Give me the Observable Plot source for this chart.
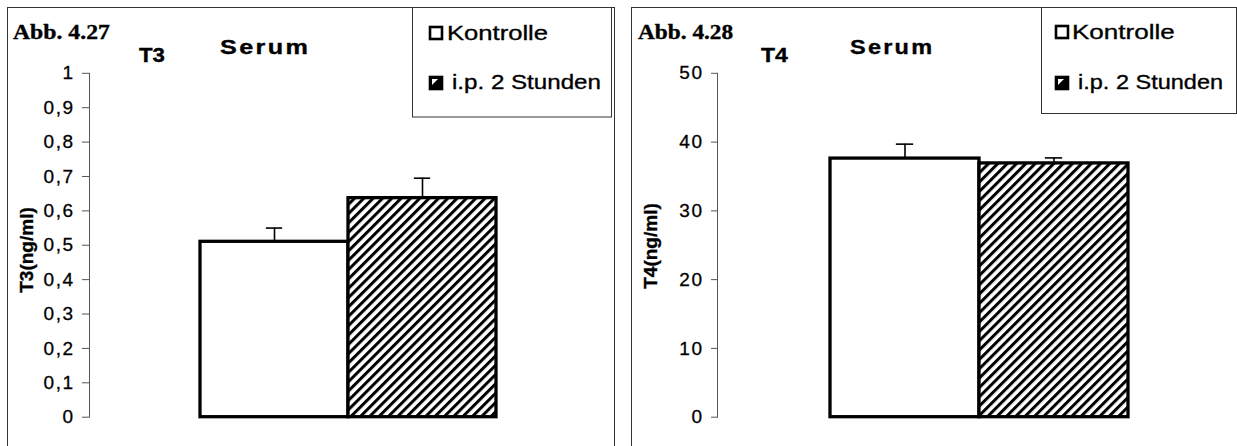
<!DOCTYPE html>
<html>
<head>
<meta charset="utf-8">
<script src="https://cdn.jsdelivr.net/npm/d3@7"></script>
<script src="https://cdn.jsdelivr.net/npm/@observablehq/plot@0.6"></script>
<style>
  html, body { margin: 0; padding: 0; background: #fff; }
  #wrap { position: relative; width: 1237px; height: 446px; overflow: hidden; background: #fff; }
  #wrap svg { position: absolute; top: 0; }
  .sans { font-family: "Liberation Sans", Arial, sans-serif; }
  .serif { font-family: "Liberation Serif", "Times New Roman", serif; }
  .heavy { stroke: black; stroke-width: 0.35px; }
</style>
</head>
<body>
<div id="wrap"></div>
<script>
// ---- data ----
const categories = ["Kontrolle", "i.p. 2 Stunden"];
const t3Values = [0.51, 0.637];
const t3Errors = [0.04, 0.058];
const t4Values = [37.6, 36.9];
const t4Errors = [2.1, 0.8];
const t3Ticks = [0, 0.1, 0.2, 0.3, 0.4, 0.5, 0.6, 0.7, 0.8, 0.9, 1];
const t4Ticks = [0, 10, 20, 30, 40, 50];

const wrap = document.getElementById("wrap");
const comma = d => String(d).replace(".", ",");

function panel({values, errors, ticks, domain, left, width, marginLeft, marginRight, tickSize, align, hatchId}) {
  const data = categories.map((c, i) => ({cat: c, value: values[i], err: errors[i], top: values[i] + errors[i]}));
  const step = 148.7;
  const svg = Plot.plot({
    width, height: 446,
    marginLeft, marginRight, marginTop: 72.8, marginBottom: 29.3,
    style: {fontFamily: "Liberation Sans, Arial, sans-serif", fontSize: "19px", color: "black", background: "transparent", overflow: "visible"},
    x: {domain: categories, paddingInner: 0, paddingOuter: 0.74, align, axis: null},
    y: {domain, ticks, tickFormat: comma, tickSize, tickPadding: 8, line: true, label: null},
    marks: [
      Plot.ruleX(data, {x: "cat", y1: "value", y2: "top", stroke: "black", strokeWidth: 1.6}),
      Plot.tickY(data, {x: "cat", y: "top", stroke: "black", strokeWidth: 1.6, insetLeft: (step - 17) / 2, insetRight: (step - 17) / 2}),
      Plot.barY(data.filter(d => d.cat === categories[0]), {x: "cat", y: "value", fill: "white", stroke: "black", strokeWidth: 3.3}),
      Plot.barY(data.filter(d => d.cat === categories[1]), {x: "cat", y: "value", fill: `url(#${hatchId})`, stroke: "black", strokeWidth: 3.3})
    ]
  });
  svg.style.left = left + "px";
  svg.insertAdjacentHTML("afterbegin",
    `<defs><pattern id="${hatchId}" patternUnits="userSpaceOnUse" width="6.6" height="6.6" patternTransform="rotate(45)">
       <rect x="0" y="0" width="6.6" height="6.6" fill="white"></rect>
       <rect x="0" y="0" width="3" height="6.6" fill="black"></rect>
     </pattern></defs>`);
  svg.querySelectorAll("[aria-label='y-axis tick label']").forEach(g => {
    g.style.letterSpacing = "1.5px";
    g.style.stroke = "black";
    g.style.strokeWidth = "0.3px";
  });
  svg.querySelectorAll("[aria-label='y-axis tick'], [aria-label='frame']").forEach(g => {
    g.setAttribute("stroke", "#555");
  });
  wrap.appendChild(svg);
}

panel({values: t3Values, errors: t3Errors, ticks: t3Ticks, domain: [0, 1], left: 0, width: 618, marginLeft: 89, marginRight: 12, tickSize: 7, align: 0.5, hatchId: "hatchA"});
panel({values: t4Values, errors: t4Errors, ticks: t4Ticks, domain: [0, 50], left: 618, width: 619, marginLeft: 99, marginRight: 0, tickSize: 6, align: 0.51, hatchId: "hatchB"});

// ---- frames, titles, legends ----
function legendSym(x, y) {
  return `<rect x="${x}" y="${y}" width="12" height="12" fill="white" stroke="black" stroke-width="2.6"></rect>`;
}
function legendSymH(x, y) {
  return `<rect x="${x}" y="${y}" width="12" height="12" fill="black" stroke="black" stroke-width="2.6"></rect>
          <polygon points="${x+2},${y+2} ${x+8},${y+2} ${x+2},${y+8}" fill="white"></polygon>`;
}
function txt(cls, x, y, size, sx, text, extra = "") {
  return `<text class="${cls} heavy" transform="translate(${x},${y}) scale(${sx},1)" font-size="${size}" ${extra}>${text}</text>`;
}
const overlay = `
<svg width="1237" height="446" style="left:0;top:0;pointer-events:none">
  <rect x="7.5" y="7.5" width="607" height="460" fill="none" stroke="#333" stroke-width="1"></rect>
  <rect x="412.5" y="7.5" width="199" height="109.5" fill="none" stroke="#333" stroke-width="1"></rect>
  <rect x="631.5" y="7.5" width="620" height="460" fill="none" stroke="#333" stroke-width="1"></rect>
  <rect x="1041.5" y="7.5" width="195" height="106" fill="none" stroke="#333" stroke-width="1"></rect>

  ${txt("serif", 13, 39, 21, 1.13, "Abb. 4.27", 'font-weight="bold"')}
  ${txt("sans", 139, 62, 20, 1.11, "T3", 'font-weight="bold"')}
  ${txt("sans", 220, 54, 21, 1.2, "Serum", 'font-weight="bold" letter-spacing="2"')}
  <text class="sans heavy" transform="translate(33,250) rotate(-90)" text-anchor="middle" font-size="19" font-weight="bold">T3(ng/ml)</text>
  ${legendSym(430, 27)}
  ${txt("sans", 447, 40, 21, 1.22, "Kontrolle")}
  ${legendSymH(430, 77)}
  ${txt("sans", 452, 89, 21, 1.15, "i.p. 2 Stunden")}

  ${txt("serif", 638, 39, 21, 1.11, "Abb. 4.28", 'font-weight="bold"')}
  ${txt("sans", 761, 62, 20, 1.15, "T4", 'font-weight="bold"')}
  ${txt("sans", 850, 54, 21, 1.12, "Serum", 'font-weight="bold" letter-spacing="2"')}
  <text class="sans heavy" transform="translate(657,246) rotate(-90)" text-anchor="middle" font-size="19" font-weight="bold">T4(ng/ml)</text>
  ${legendSym(1056, 26)}
  ${txt("sans", 1072, 39, 21, 1.24, "Kontrolle")}
  ${legendSymH(1056, 77)}
  ${txt("sans", 1078, 89, 21, 1.12, "i.p. 2 Stunden")}
</svg>`;
wrap.insertAdjacentHTML("beforeend", overlay);
</script>
</body>
</html>
